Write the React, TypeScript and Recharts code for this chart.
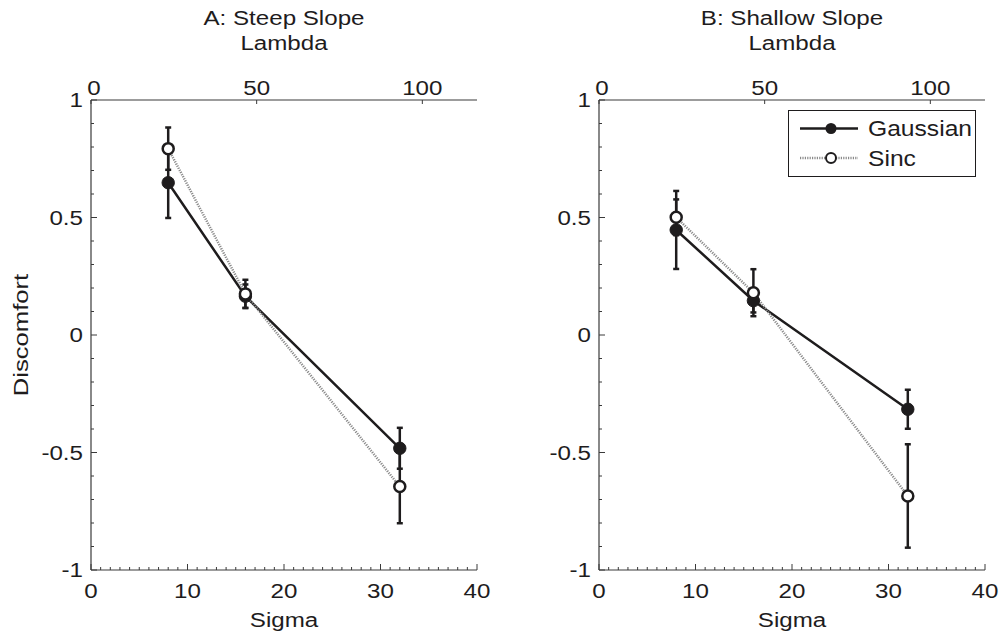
import React from 'react';
import { LineChart, Line, XAxis, YAxis, ErrorBar, Label } from 'recharts';

// sigma values of the three conditions
const sigma = [8, 16, 32];

// panel A: steep slope
const steepGaussian = [0.648, 0.165, -0.482];
const steepGaussianErr = [0.15, 0.05, 0.087];
const steepSinc = [0.793, 0.175, -0.645];
const steepSincErr = [0.09, 0.06, 0.156];

// panel B: shallow slope
const shallowGaussian = [0.447, 0.146, -0.316];
const shallowGaussianErr = [0.166, 0.05, 0.083];
const shallowSinc = [0.501, 0.18, -0.685];
const shallowSincErr = [0.076, 0.1, 0.22];

const sigmaTicks = [0, 10, 20, 30, 40];
const lambdaTicks = [0, 50, 100];
const discomfortTicks = [-1, -0.5, 0, 0.5, 1];

// top axis runs 0..116.5 lambda over the same width as sigma 0..40
const LAMBDA_MAX = 116.5;
const SIGMA_MAX = 40;
const toSigma = (l: number) => (l / LAMBDA_MAX) * SIGMA_MAX;
const toLambda = (s: number) => Math.round((s / SIGMA_MAX) * LAMBDA_MAX);

const FONT = '"Liberation Sans", Arial, sans-serif';
const INK = '#1e1c1d';
const AXIS = '#3a3a3a';
const SINC_LINE = '#8a8a8a';

// minor tick positions (every 1 sigma, every 0.1 discomfort)
const steps = (from: number, to: number, step: number) => {
  const out: number[] = [];
  for (let i = 0; i <= Math.round((to - from) / step); i++) out.push(Math.round((from + i * step) * 10) / 10);
  return out;
};
const sigmaMinor = steps(0, SIGMA_MAX, 1);
const discomfortMinor = steps(-1, 1, 0.1);

const isMajor = (v: number, majors: number[]) => majors.some(m => Math.abs(m - v) < 1e-6);

// the figure's lettering is a wide sans: stretch it along the reading direction
const Txt = ({ x, y, anchor = 'middle', size = 21, sx = 1.15, rotate = 0, children }: any) => (
  <text
    transform={`translate(${x},${y})${rotate ? ` rotate(${rotate})` : ''} scale(${sx},1)`}
    textAnchor={anchor}
    fontFamily={FONT}
    fontSize={size}
    fill={INK}
  >
    {children}
  </text>
);

const YTick = (props: any) => {
  const { x, y, payload } = props;
  const major = isMajor(payload.value, discomfortTicks);
  return (
    <g>
      <line x1={x} x2={x + (major ? 6 : 3)} y1={y} y2={y} stroke={AXIS} strokeWidth={1} />
      {major && <Txt x={x - 8} y={y + 7} anchor="end">{String(payload.value)}</Txt>}
    </g>
  );
};

const BottomTick = (props: any) => {
  const { x, y, payload } = props;
  const major = isMajor(payload.value, sigmaTicks);
  return (
    <g>
      <line x1={x} x2={x} y1={y} y2={y - (major ? 6 : 3)} stroke={AXIS} strokeWidth={1} />
      {major && <Txt x={x} y={y + 28}>{String(payload.value)}</Txt>}
    </g>
  );
};

const TopTick = (props: any) => {
  const { x, y, payload } = props;
  const lambda = toLambda(payload.value);
  return (
    <g>
      <line x1={x} x2={x} y1={y} y2={y + 4} stroke={AXIS} strokeWidth={1} />
      <Txt x={x + (lambda === 0 ? 3 : 0)} y={y - 5}>{String(lambda)}</Txt>
    </g>
  );
};

const PLOT_TOP = 100;
const PLOT_BOTTOM = 570;
const PLOT_W = 386;

const LegendBox = ({ x, y }: { x: number; y: number }) => (
  <g transform={`translate(${x},${y})`}>
    <rect x={0.5} y={0.5} width={187} height={66} fill="#fff" stroke={INK} strokeWidth={1} />
    <line x1={12} x2={70} y1={18.5} y2={18.5} stroke={INK} strokeWidth={2.5} />
    <circle cx={43} cy={18.5} r={5.5} fill={INK} />
    <Txt x={80} y={26} anchor="start" size={22} sx={1.12}>Gaussian</Txt>
    <line x1={12} x2={70} y1={48} y2={48} stroke={SINC_LINE} strokeWidth={2.5} strokeDasharray="1.2 1.2" />
    <circle cx={43} cy={48} r={5} fill="#fff" stroke={INK} strokeWidth={2} />
    <Txt x={80} y={55.5} anchor="start" size={22} sx={1.12}>Sinc</Txt>
  </g>
);

const titleLabel = (title: string, plotLeft: number, legend: boolean) => () => {
  const cx = plotLeft + PLOT_W / 2;
  return (
    <g>
      <Txt x={cx} y={PLOT_TOP - 75}>{title}</Txt>
      <Txt x={cx} y={PLOT_TOP - 50}>Lambda</Txt>
      {legend && <LegendBox x={plotLeft + 189} y={110} />}
    </g>
  );
};

const sigmaLabel = (cx: number) => () => <Txt x={cx} y={PLOT_BOTTOM + 57}>Sigma</Txt>;

const discomfortLabel = () => (
  <Txt x={28} y={(PLOT_TOP + PLOT_BOTTOM) / 2} rotate={-90} sx={1.22}>Discomfort</Txt>
);

interface PanelProps {
  title: string;
  gaussian: number[];
  gaussianErr: number[];
  sinc: number[];
  sincErr: number[];
  left: number;
  plotLeft: number;
  showYLabel?: boolean;
  showLegend?: boolean;
}

const Y_W = 40;
const X_H = 30;

const Panel = ({ title, gaussian, gaussianErr, sinc, sincErr, left, plotLeft, showYLabel, showLegend }: PanelProps) => {
  const data = sigma.map((s, i) => ({
    sigma: s,
    gaussian: gaussian[i],
    gaussianErr: gaussianErr[i],
    sinc: sinc[i],
    sincErr: sincErr[i],
  }));
  const width = 500;
  const height = 633;
  return (
    <div style={{ position: 'absolute', left, top: 0 }}>
      <LineChart
        width={width}
        height={height}
        data={data}
        margin={{
          top: PLOT_TOP - X_H,
          right: width - plotLeft - PLOT_W,
          bottom: height - PLOT_BOTTOM - X_H,
          left: plotLeft - Y_W,
        }}
      >
        <XAxis
          dataKey="sigma"
          type="number"
          domain={[0, SIGMA_MAX]}
          allowDataOverflow
          ticks={sigmaMinor}
          interval={0}
          height={X_H}
          tickSize={0}
          tickMargin={0}
          tick={<BottomTick />}
          tickLine={false}
          axisLine={{ stroke: AXIS, strokeWidth: 1.2 }}
        >
          <Label content={sigmaLabel(plotLeft + PLOT_W / 2)} />
        </XAxis>
        <XAxis
          xAxisId="lambda"
          dataKey="sigma"
          orientation="top"
          type="number"
          domain={[0, SIGMA_MAX]}
          allowDataOverflow
          ticks={lambdaTicks.map(toSigma)}
          interval={0}
          height={X_H}
          tickSize={0}
          tickMargin={0}
          tick={<TopTick />}
          tickLine={false}
          axisLine={{ stroke: AXIS, strokeWidth: 1.2 }}
        >
          <Label content={titleLabel(title, plotLeft, !!showLegend)} />
        </XAxis>
        <YAxis
          type="number"
          domain={[-1, 1]}
          allowDataOverflow
          ticks={discomfortMinor}
          interval={0}
          width={Y_W}
          tickSize={0}
          tickMargin={0}
          tick={<YTick />}
          tickLine={false}
          axisLine={{ stroke: AXIS, strokeWidth: 1.2 }}
        >
          {showYLabel ? <Label content={discomfortLabel} /> : null}
        </YAxis>
        <Line
          dataKey="gaussian"
          stroke={INK}
          strokeWidth={2.5}
          dot={{ r: 6.2, fill: INK, stroke: INK, strokeWidth: 1 }}
          isAnimationActive={false}
        >
          <ErrorBar dataKey="gaussianErr" width={3} stroke={INK} strokeWidth={2.5} isAnimationActive={false} />
        </Line>
        <Line
          dataKey="sinc"
          stroke={SINC_LINE}
          strokeWidth={2.5}
          strokeDasharray="1.2 1.2"
          dot={{ r: 5.5, fill: '#fff', stroke: INK, strokeWidth: 2.5, strokeDasharray: '0' }}
          isAnimationActive={false}
        >
          <ErrorBar dataKey="sincErr" width={3} stroke={INK} strokeWidth={2.5} isAnimationActive={false} />
        </Line>
      </LineChart>
    </div>
  );
};

export default function App() {
  return (
    <div style={{ position: 'absolute', left: 0, top: 0, width: 1000, height: 633, background: '#fff' }}>
      <Panel
        title="A: Steep Slope"
        gaussian={steepGaussian}
        gaussianErr={steepGaussianErr}
        sinc={steepSinc}
        sincErr={steepSincErr}
        left={0}
        plotLeft={91}
        showYLabel
      />
      <Panel
        title="B: Shallow Slope"
        gaussian={shallowGaussian}
        gaussianErr={shallowGaussianErr}
        sinc={shallowSinc}
        sincErr={shallowSincErr}
        left={500}
        plotLeft={99}
        showLegend
      />
    </div>
  );
}
